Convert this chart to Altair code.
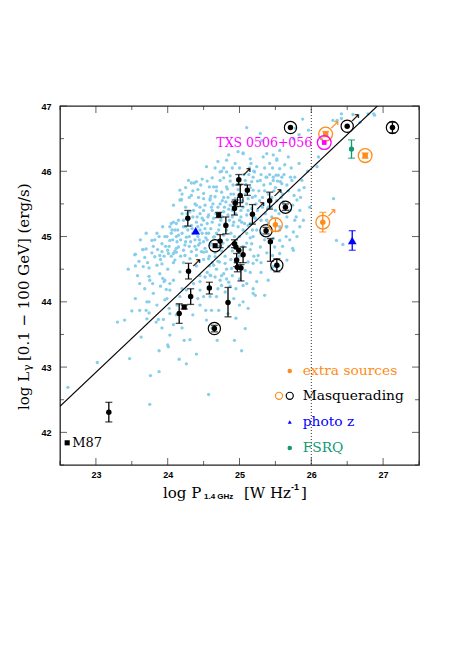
import altair as alt
import pandas as pd

# ---------------- data ----------------
X_DOMAIN = [22.5, 27.5]
Y_DOMAIN = [41.5, 47.0]
x_major = [23, 24, 25, 26, 27]
x_minor = [22.5, 23.5, 24.5, 25.5, 26.5, 27.5]
y_major = [42, 43, 44, 45, 46, 47]
y_minor = [41.5, 42.5, 43.5, 44.5, 45.5, 46.5]

# light-blue background sample (log P, log L)
cloud_points = [
    (22.61, 42.69), (23.02, 43.07), (23.30, 43.69), (23.40, 43.72), (23.47, 43.13), (23.50, 43.86),
    (23.54, 44.72), (23.61, 43.87), (23.63, 43.46), (23.65, 44.80), (23.70, 43.87), (23.71, 44.00),
    (23.75, 42.43), (23.76, 42.87), (23.80, 44.13), (23.82, 44.69), (23.87, 43.73), (23.88, 42.93),
    (23.88, 43.25), (23.90, 44.24), (23.94, 43.73), (23.96, 44.03), (24.00, 43.34), (24.02, 43.90),
    (24.03, 44.18), (24.05, 44.70), (24.08, 44.33), (24.10, 44.64), (24.12, 43.80), (24.16, 43.12),
    (24.17, 44.46), (24.19, 45.56), (24.23, 43.41),
    (23.74, 44.52), (23.92, 44.58), (23.74, 44.39), (23.79, 44.28), (23.93, 44.36), (23.95, 44.31),
    (24.03, 44.28), (23.98, 44.19), (23.99, 44.05), (23.74, 44.00), (23.74, 43.83), (23.71, 43.74),
    (23.84, 43.69), (24.03, 43.82), (24.13, 43.95), (24.17, 44.08), (24.20, 44.20), (24.26, 44.18),
    (24.36, 44.28), (24.45, 44.31), (24.52, 44.38), (24.59, 44.41), (24.66, 44.38), (24.73, 44.33),
    (24.78, 44.43), (24.45, 44.18), (24.50, 44.08), (24.59, 44.08), (24.68, 44.08), (24.45, 43.95),
    (24.53, 43.87), (24.61, 43.87), (24.71, 43.87), (24.54, 43.72), (24.69, 43.41), (24.31, 43.42),
    (24.03, 43.49), (24.01, 43.31), (24.57, 42.58), (25.08, 43.59), (25.03, 43.25), (25.22, 44.10),
    (25.19, 44.20), (25.10, 44.28), (23.89, 44.71), (24.01, 44.74), (24.12, 44.76), (24.24, 44.71),
    (24.31, 44.66), (24.40, 44.71), (24.50, 44.76), (24.57, 44.66), (24.64, 44.56), (24.66, 44.69),
    (24.72, 44.61), (24.80, 44.59), (24.89, 44.51), (24.94, 44.61), (25.08, 44.48), (25.12, 44.61),
    (25.19, 44.59), (25.24, 44.64), (24.84, 43.82), (24.87, 44.24),
    (24.93, 43.41), (25.19, 44.13), (25.24, 44.31), (25.40, 44.33), (25.47, 44.54), (25.66, 44.64),
    (25.75, 44.79), (25.56, 44.74), (25.46, 44.71), (25.26, 44.71), (25.29, 44.84), (25.17, 44.89),
    (25.19, 45.00), (25.24, 45.10), (25.10, 45.05), (25.05, 45.10), (25.47, 44.97), (25.56, 44.94),
    (25.65, 45.00), (25.75, 45.07), (25.84, 45.15), (25.89, 45.25), (25.77, 45.25), (25.66, 45.15),
    (25.56, 45.10), (25.49, 44.84), (25.84, 45.40), (25.80, 45.56), (25.73, 45.86), (25.68, 46.22),
    (25.56, 46.32), (25.52, 46.17), (25.42, 46.12), (25.33, 46.22), (25.24, 46.07), (25.19, 45.91),
    (25.29, 45.86), (25.38, 45.91), (25.47, 45.86), (25.59, 45.81), (25.08, 45.86), (25.29, 46.58),
    (25.05, 46.27), (25.15, 46.19), (24.82, 45.76), (24.73, 45.86), (24.94, 46.12), (24.82, 46.17),
    (24.75, 46.00), (24.54, 46.07), (24.40, 45.84), (24.29, 45.86), (24.17, 45.71), (24.33, 45.63),
    (24.50, 45.66), (24.64, 45.76), (24.59, 45.56), (24.17, 45.56), (24.08, 45.48), (23.93, 45.15),
    (23.85, 45.05), (23.78, 44.94), (23.92, 44.89), (23.96, 45.00), (24.03, 44.94), (24.12, 45.00),
    (24.00, 44.79), (24.08, 44.74), (24.15, 44.84), (24.22, 44.79), (23.85, 44.56), (23.89, 44.43),
    (23.66, 44.54), (23.75, 44.33), (23.61, 44.28), (23.96, 44.33), (24.03, 45.15), (24.12, 45.20),
    (23.99, 45.00), (23.70, 44.81),
    (25.88, 46.80), (26.14, 46.50), (26.30, 46.78), (26.36, 46.78), (26.42, 46.81), (26.58, 46.87),
    (26.68, 46.75), (26.87, 46.88), (25.78, 46.66), (25.83, 46.56), (25.75, 46.50), (25.47, 46.25),
    (25.52, 46.19), (25.56, 46.04), (25.38, 46.27), (25.31, 46.47), (25.37, 45.91), (25.47, 45.91),
    (25.51, 45.94), (25.54, 45.94), (25.59, 45.91), (25.34, 45.79), (25.43, 45.81), (25.57, 45.84),
    (25.66, 45.79), (25.71, 45.91), (25.77, 45.91), (25.83, 46.12), (25.87, 45.86), (25.83, 45.71),
    (25.76, 45.63), (25.74, 45.48), (25.79, 45.30), (25.61, 45.53), (25.66, 45.30), (25.56, 45.15),
    (25.38, 45.25), (25.74, 44.82), (25.65, 45.15), (26.10, 46.22), (26.08, 46.07), (26.35, 44.94),
    (26.44, 44.88), (26.31, 45.58), (25.96, 46.63), (26.42, 46.88), (26.79, 46.88), (26.88, 46.86),
    (25.10, 46.67), (25.05, 46.28), (25.16, 46.12), (25.21, 45.99), (24.33, 45.82), (24.37, 45.82),
    (24.46, 45.79), (24.58, 45.76), (24.19, 45.57), (24.73, 45.99), (24.82, 45.99), (24.87, 45.93),
    (24.78, 45.90), (24.68, 45.76), (24.75, 45.68), (24.83, 45.73), (24.91, 45.79), (25.17, 45.84),
    (25.19, 45.71), (24.50, 45.58), (24.59, 45.58), (24.66, 45.61), (24.40, 45.48), (24.52, 45.48),
    (24.61, 45.45), (24.73, 45.50), (24.81, 45.53), (24.31, 45.38), (24.08, 45.22), (24.06, 45.10),
    (24.45, 45.35), (24.57, 45.33), (24.64, 45.28), (24.50, 45.25), (24.40, 45.22), (24.33, 45.17),
    (24.22, 45.15), (24.15, 45.02), (24.26, 44.99), (24.13, 44.92), (24.24, 44.87), (24.33, 44.77),
    (23.92, 44.77), (23.66, 44.80), (23.55, 44.73), (24.45, 45.10), (24.54, 45.05), (24.64, 44.99),
    (24.73, 44.94), (24.50, 44.92), (24.59, 44.87), (24.43, 44.87), (24.54, 44.77), (24.47, 44.77),
    (24.87, 45.48), (24.94, 45.58), (24.84, 45.33), (24.78, 45.38), (24.91, 45.17), (25.12, 45.58),
    (25.17, 45.43), (25.10, 45.33), (25.03, 45.22), (25.12, 45.17), (25.22, 45.28),
    (24.42, 45.00), (24.48, 45.05), (24.55, 44.95), (24.60, 45.12), (24.68, 45.05), (24.72, 45.18),
    (24.78, 45.02), (24.82, 45.10), (24.88, 45.05), (24.92, 45.22), (24.98, 45.15), (25.02, 45.30),
    (24.55, 45.20), (24.62, 45.40), (24.70, 45.45), (24.76, 45.30), (24.85, 45.42), (24.90, 45.30),
    (24.95, 45.35), (25.05, 45.45), (25.10, 45.50), (24.45, 44.90), (24.52, 44.82), (24.58, 44.70),
    (24.66, 44.75), (24.70, 44.62), (24.75, 44.78), (24.80, 44.70), (24.85, 44.85), (24.90, 44.78),
    (24.38, 44.95), (24.35, 45.05), (24.42, 45.15), (24.48, 45.28), (24.35, 45.30), (24.28, 45.10),
    (24.25, 44.92), (24.30, 44.85), (24.40, 44.80), (24.50, 44.65), (24.58, 44.55), (24.62, 44.60),
    (25.15, 45.20), (25.20, 45.30), (25.25, 45.40), (25.28, 45.55), (25.32, 45.60), (25.35, 45.70),
    (25.22, 45.62), (25.15, 45.75), (25.08, 45.65), (24.98, 45.72), (24.88, 45.65), (24.78, 45.60),
    (24.68, 45.70), (24.60, 45.62), (24.45, 45.45), (24.38, 45.50), (24.30, 45.60), (24.25, 45.45),
    (24.20, 45.35), (24.15, 45.25), (24.10, 45.10), (24.05, 45.20), (24.12, 44.82), (24.18, 44.70),
    (24.22, 44.60), (24.08, 44.60), (24.00, 44.50), (24.30, 44.45), (24.40, 44.55), (24.45, 44.40),
    (24.55, 44.45), (24.68, 44.50), (24.75, 44.40), (24.85, 44.30), (24.95, 44.20), (25.05, 44.00),
    (25.12, 43.90), (24.92, 44.05), (24.80, 44.15), (24.75, 44.25), (25.30, 45.05), (25.35, 44.95),
    (25.40, 45.20), (25.45, 45.30), (25.50, 45.40), (25.55, 45.35), (25.60, 45.65), (25.50, 45.75),
    (25.45, 45.60), (25.40, 45.45), (25.30, 45.25), (25.38, 44.75), (25.30, 44.60), (25.20, 44.70),
    (25.15, 44.80), (25.10, 44.90), (25.00, 45.00), (25.05, 44.85), (24.95, 44.90),
    (23.60, 44.62), (23.68, 44.68), (23.72, 44.60), (23.78, 44.75), (23.80, 44.85), (23.86, 44.80),
    (23.82, 44.95), (23.88, 45.00), (23.90, 44.65), (23.95, 44.70), (23.97, 44.85), (24.02, 44.85),
    (24.05, 45.05), (24.07, 44.95), (24.10, 44.78), (24.14, 45.10), (24.18, 44.95), (24.20, 45.05),
    (24.22, 45.25), (24.25, 45.15), (24.27, 45.35), (24.30, 45.00), (24.32, 44.92), (24.34, 45.12),
    (24.36, 45.40), (24.38, 44.85), (24.40, 45.05), (24.41, 45.30), (24.43, 45.60), (24.44, 44.95),
    (24.47, 45.18), (24.50, 45.40), (24.52, 45.12), (24.53, 44.98), (24.56, 45.30), (24.57, 45.05),
    (24.60, 44.90), (24.62, 45.22), (24.63, 45.50), (24.65, 45.00), (24.67, 45.35), (24.70, 44.85),
    (24.71, 45.10), (24.74, 45.25), (24.76, 45.55), (24.77, 44.90), (24.79, 45.45), (24.80, 45.20),
    (24.83, 44.95), (24.84, 45.60), (24.86, 45.25), (24.87, 45.85), (24.90, 45.40), (24.92, 45.65),
    (24.93, 45.00), (24.96, 45.50), (24.97, 45.80), (25.00, 45.25), (25.02, 45.40), (25.04, 45.55),
    (25.06, 45.95), (25.07, 45.20), (25.09, 45.80), (25.12, 45.40), (25.13, 45.95), (25.14, 46.05),
    (25.18, 45.60), (25.20, 46.00), (25.23, 45.50), (25.25, 45.85), (25.27, 45.70), (25.30, 45.95),
    (25.32, 45.45), (25.35, 46.05), (25.36, 45.35), (25.40, 45.65), (25.42, 45.95), (25.44, 45.45),
    (25.46, 46.05), (25.48, 45.70), (25.52, 45.55), (25.53, 45.85), (25.58, 45.60), (25.62, 45.95),
    (25.63, 46.10), (25.68, 45.70), (25.70, 45.40), (25.72, 46.05), (24.20, 45.65), (24.25, 45.75),
    (24.35, 45.70), (24.42, 45.72), (24.48, 45.88), (24.55, 45.85), (24.62, 45.90), (24.66, 46.05),
    (24.70, 46.15), (24.78, 46.05), (24.85, 46.25), (24.90, 46.05), (24.98, 46.30), (25.00, 46.05),
    (24.60, 44.40), (24.70, 44.20), (24.82, 44.50), (24.90, 44.40), (25.00, 44.35), (25.05, 44.25),
    (25.15, 44.45), (25.30, 44.45), (25.35, 44.10), (25.45, 44.50), (25.55, 44.55), (25.60, 44.85),
    (25.70, 44.95), (25.80, 45.00), (25.85, 45.60), (25.90, 45.75), (25.95, 46.00), (25.98, 45.45),
    (23.62, 44.95), (23.70, 45.05), (23.55, 44.55), (23.45, 44.50), (23.58, 44.40), (23.68, 44.20),
    (23.55, 44.05), (23.85, 43.95), (23.92, 43.60), (24.08, 43.65), (24.20, 43.60), (24.35, 43.80),
    (24.42, 44.05), (24.62, 43.60), (24.40, 43.20), (24.26, 43.05), (24.95, 43.75), (25.00, 43.95),
    (24.82, 44.35), (24.88, 44.65), (25.00, 44.70), (25.15, 44.98), (25.18, 45.10),
]

# black sources: x, y, lower error, upper error, flags
src_x = [23.18, 24.16, 24.23, 24.32, 24.58, 24.84, 24.65, 24.28, 24.29, 24.66, 24.71, 24.73,
         24.81, 24.93, 24.94, 24.99, 25.01, 25.11, 25.18, 24.93, 24.95, 24.96, 24.99, 24.97,
         25.02, 25.05, 25.37, 25.42, 25.43, 25.52, 25.64, 25.71, 26.50, 27.13]
src_y = [42.31, 43.82, 43.92, 44.08, 44.21, 43.99, 43.59, 45.28, 44.47, 44.86, 45.33, 44.93,
         45.17, 45.43, 45.51, 45.87, 45.63, 45.71, 45.34, 44.89, 44.84, 44.64, 44.79, 44.53,
         44.52, 44.72, 45.09, 45.55, 44.92, 44.56, 45.45, 46.67, 46.69, 46.67]
src_elo = [0.15, 0.15, 0.03, 0.12, 0.09, 0.22, 0.05, 0.12, 0.12, 0.0, 0.04, 0.10,
           0.13, 0.10, 0.05, 0.08, 0.17, 0.08, 0.15, 0.06, 0.0, 0.10, 0.0, 0.07,
           0.20, 0.12, 0.05, 0.13, 0.30, 0.10, 0.05, 0.0, 0.0, 0.08]
src_ehi = [0.15, 0.15, 0.03, 0.12, 0.09, 0.23, 0.05, 0.12, 0.12, 0.0, 0.04, 0.10,
           0.13, 0.10, 0.05, 0.08, 0.17, 0.08, 0.15, 0.06, 0.0, 0.10, 0.0, 0.07,
           0.05, 0.12, 0.05, 0.13, 0.05, 0.10, 0.05, 0.0, 0.0, 0.08]
src_ring = [0, 0, 0, 0, 0, 0, 1, 0, 0, 1, 0, 0, 0, 0, 0, 0, 0, 0, 0, 0, 0, 0, 0, 0,
            0, 0, 1, 0, 0, 1, 1, 1, 1, 1]
src_arrow = [0, 0, 0, 0, 0, 0, 0, 0, 1, 0, 0, 0, 0, 0, 0, 1, 0, 0, 1, 0, 0, 0, 0, 0,
             0, 0, 0, 1, 0, 0, 0, 0, 1, 0]
src_square = [0, 0, 1, 0, 0, 0, 0, 0, 0, 1, 1, 0, 0, 0, 0, 0, 0, 0, 0, 0, 0, 0, 0, 0,
              0, 0, 0, 0, 0, 0, 0, 0, 0, 0]

open_sq_x = [25.01]
open_sq_y = [45.56]

# extra sources (orange)
extra_x = [25.50, 26.16, 26.20, 26.75]
extra_y = [45.18, 45.22, 46.57, 46.24]
extra_err = [0.10, 0.15, 0.04, 0.04]
extra_arrow = [0, 1, 1, 0]
extra_square = [0, 0, 1, 1]

# TXS 0506+056
txs_x = [26.18]
txs_y = [46.44]

# FSRQ (green) and photo-z (blue)
fsrq_x = [26.56]
fsrq_y = [46.34]
fsrq_err = [0.14]
photoz_x = [24.39, 26.57]
photoz_y = [45.09, 44.94]
photoz_err = [0.0, 0.15]

# M87
m87_x = [22.60]
m87_y = [41.84]

# correlation line and threshold
line_x = [22.5, 26.92]
line_y = [42.40, 47.0]
threshold_x = 26.0

# ---------------- styling ----------------
W = H = 359
BLUE_CLOUD = "#87ceeb"
ORANGE = "#ff8c1a"
GREEN = "#109a72"
BLUE = "#0000ff"
MAGENTA = "#ff00ff"
SERIF = "DejaVu Serif"

xs = alt.Scale(domain=X_DOMAIN, nice=False, zero=False)
ys = alt.Scale(domain=Y_DOMAIN, nice=False, zero=False)
x_axis = alt.Axis(values=x_major, format="d", ticks=False, domain=False, grid=False, title=None,
                  labelFont="Liberation Sans", labelFontWeight="bold", labelFontSize=9,
                  labelPadding=5, labelColor="black")
y_axis = alt.Axis(values=y_major, format="d", ticks=False, domain=False, grid=False, title=None,
                  labelFont="Liberation Sans", labelFontWeight="bold", labelFontSize=9,
                  labelPadding=9, labelColor="black")


def X(f="x"):
    return alt.X(f, type="quantitative", scale=xs, axis=x_axis)


def Y(f="y"):
    return alt.Y(f, type="quantitative", scale=ys, axis=y_axis)


cloud_df = pd.DataFrame(cloud_points, columns=["x", "y"])
src = pd.DataFrame({"x": src_x, "y": src_y, "lo": [a - b for a, b in zip(src_y, src_elo)],
                    "hi": [a + b for a, b in zip(src_y, src_ehi)], "err": [a + b for a, b in zip(src_elo, src_ehi)],
                    "ring": src_ring, "arrow": src_arrow, "square": src_square})
src_err = src[src["err"] > 0]
extra = pd.DataFrame({"x": extra_x, "y": extra_y, "lo": [a - e for a, e in zip(extra_y, extra_err)],
                      "hi": [a + e for a, e in zip(extra_y, extra_err)], "arrow": extra_arrow,
                      "square": extra_square})
fsrq = pd.DataFrame({"x": fsrq_x, "y": fsrq_y, "lo": [a - e for a, e in zip(fsrq_y, fsrq_err)],
                     "hi": [a + e for a, e in zip(fsrq_y, fsrq_err)]})
photoz = pd.DataFrame({"x": photoz_x, "y": photoz_y, "lo": [a - e for a, e in zip(photoz_y, photoz_err)],
                       "hi": [a + e for a, e in zip(photoz_y, photoz_err)], "err": photoz_err})
photoz_e = photoz[photoz["err"] > 0]
line_df = pd.DataFrame({"x": line_x, "y": line_y})

layers = []
layers.append(alt.Chart(cloud_df).mark_circle(size=11, color=BLUE_CLOUD, opacity=1).encode(x=X(), y=Y()))
layers.append(alt.Chart(line_df).mark_line(color="black", strokeWidth=1.1, clip=True).encode(x=X(), y=Y()))
layers.append(alt.Chart(pd.DataFrame({"x": [threshold_x]})).mark_rule(
    color="#333", strokeDash=[1, 2], strokeWidth=1).encode(x=X()))


def errbars(df, color):
    out = [alt.Chart(df).mark_rule(color=color, strokeWidth=1.3).encode(x=X(), y=Y("lo"), y2="hi")]
    for f in ["lo", "hi"]:
        out.append(alt.Chart(df).mark_tick(orient="horizontal", size=7, thickness=1.3, color=color)
                   .encode(x=X(), y=Y(f)))
    return out


layers += errbars(src_err, "black")
layers += errbars(extra, ORANGE)
layers += errbars(fsrq, GREEN)
layers += errbars(photoz_e, BLUE)

layers.append(alt.Chart(src[src["square"] == 0]).mark_point(filled=True, shape="circle", size=30, color="black", opacity=1)
              .encode(x=X(), y=Y()))
layers.append(alt.Chart(src[src["square"] == 1]).mark_point(filled=True, shape="square", size=26, color="black", opacity=1)
              .encode(x=X(), y=Y()))
layers.append(alt.Chart(src[src["ring"] == 1]).mark_point(filled=False, shape="circle", size=150, color="black",
                                                           strokeWidth=1.2, opacity=1).encode(x=X(), y=Y()))
layers.append(alt.Chart(pd.DataFrame({"x": open_sq_x, "y": open_sq_y})).mark_point(
    filled=False, shape="square", size=30, color="black", strokeWidth=1, opacity=1).encode(x=X(), y=Y()))

layers.append(alt.Chart(extra[extra["square"] == 0]).mark_point(filled=True, shape="circle", size=30, color=ORANGE, opacity=1)
              .encode(x=X(), y=Y()))
layers.append(alt.Chart(extra[extra["square"] == 1]).mark_point(filled=True, shape="square", size=30, color=ORANGE, opacity=1)
              .encode(x=X(), y=Y()))
layers.append(alt.Chart(extra).mark_point(filled=False, shape="circle", size=190, color=ORANGE,
                                          strokeWidth=1.3, opacity=1).encode(x=X(), y=Y()))

txs_df = pd.DataFrame({"x": txs_x, "y": txs_y, "t": ["TXS 0506+056"]})
layers.append(alt.Chart(txs_df).mark_point(filled=True, shape="square", size=22, color=MAGENTA, opacity=1)
              .encode(x=X(), y=Y()))
layers.append(alt.Chart(txs_df).mark_point(filled=False, shape="circle", size=190, color=MAGENTA,
                                           strokeWidth=1.3, opacity=1).encode(x=X(), y=Y()))
layers.append(alt.Chart(txs_df).mark_text(font=SERIF, fontSize=12.5, color=MAGENTA, align="right",
                                          baseline="middle", dx=-12).encode(x=X(), y=Y(), text="t"))

layers.append(alt.Chart(fsrq).mark_point(filled=True, shape="circle", size=28, color=GREEN, opacity=1)
              .encode(x=X(), y=Y()))
layers.append(alt.Chart(photoz).mark_point(filled=True, shape="triangle-up", size=75, color=BLUE, opacity=1)
              .encode(x=X(), y=Y()))

layers.append(alt.Chart(src[src["arrow"] == 1]).mark_text(text="\u2197", font="DejaVu Sans", fontSize=13,
                                                           color="black", dx=8, dy=-8).encode(x=X(), y=Y()))
layers.append(alt.Chart(extra[extra["arrow"] == 1]).mark_text(text="\u2197", font="DejaVu Sans", fontSize=13,
                                                               color=ORANGE, dx=9, dy=-9).encode(x=X(), y=Y()))

m87_df = pd.DataFrame({"x": m87_x, "y": m87_y, "t": ["M87"]})
layers.append(alt.Chart(m87_df).mark_point(filled=True, shape="square", size=26, color="black", opacity=1)
              .encode(x=X(), y=Y()))
layers.append(alt.Chart(m87_df).mark_text(font=SERIF, fontSize=13, color="black", align="left", baseline="middle",
                                          dx=5).encode(x=X(), y=Y(), text="t"))

# in-plot legend
leg_x = 25.70
leg_text_x = 25.88
leg_df = pd.DataFrame({"x": [leg_text_x] * 4, "y": [42.94, 42.56, 42.16, 41.76],
                       "t": ["extra sources", "Masquerading", "photo z", "FSRQ"],
                       "c": [ORANGE, "black", BLUE, GREEN]})
layers.append(alt.Chart(leg_df).mark_text(font=SERIF, fontSize=13.8, align="left", baseline="middle")
              .encode(x=X(), y=Y(), text="t", color=alt.Color("c:N", scale=None)))
layers.append(alt.Chart(pd.DataFrame({"x": [leg_x], "y": [42.94]})).mark_point(
    filled=True, shape="circle", size=20, color=ORANGE, opacity=1).encode(x=X(), y=Y()))
layers.append(alt.Chart(pd.DataFrame({"x": [leg_x - 0.15], "y": [42.56]})).mark_point(
    filled=False, shape="circle", size=50, color=ORANGE, strokeWidth=1.2, opacity=1).encode(x=X(), y=Y()))
layers.append(alt.Chart(pd.DataFrame({"x": [leg_x], "y": [42.56]})).mark_point(
    filled=False, shape="circle", size=50, color="black", strokeWidth=1.2, opacity=1).encode(x=X(), y=Y()))
layers.append(alt.Chart(pd.DataFrame({"x": [leg_x], "y": [42.16]})).mark_point(
    filled=True, shape="triangle-up", size=16, color=BLUE, opacity=1).encode(x=X(), y=Y()))
layers.append(alt.Chart(pd.DataFrame({"x": [leg_x], "y": [41.76]})).mark_point(
    filled=True, shape="circle", size=20, color=GREEN, opacity=1).encode(x=X(), y=Y()))


def tick_layers(vals, length):
    tdf = pd.DataFrame({"v": vals})
    return [
        alt.Chart(tdf).mark_tick(orient="vertical", size=length, thickness=1, color="#222", yOffset=length / 2)
        .encode(x=X("v"), y=alt.value(0)),
        alt.Chart(tdf).mark_tick(orient="vertical", size=length, thickness=1, color="#222", yOffset=-length / 2)
        .encode(x=X("v"), y=alt.value(H)),
    ]


def ytick_layers(vals, length):
    tdf = pd.DataFrame({"v": vals})
    return [
        alt.Chart(tdf).mark_tick(orient="horizontal", size=length, thickness=1, color="#222", xOffset=length / 2)
        .encode(y=Y("v"), x=alt.value(0)),
        alt.Chart(tdf).mark_tick(orient="horizontal", size=length, thickness=1, color="#222", xOffset=-length / 2)
        .encode(y=Y("v"), x=alt.value(W)),
    ]


layers += tick_layers(x_major, 7) + tick_layers(x_minor, 4)
layers += ytick_layers(y_major, 7) + ytick_layers(y_minor, 4)

one = pd.DataFrame({"k": [0]})


def txt(s, x, y, size, font=SERIF, weight="normal", angle=0, align="left"):
    return alt.Chart(one).mark_text(text=s, font=font, fontSize=size, fontWeight=weight, angle=angle,
                                    align=align, baseline="middle", color="black").encode(
        x=alt.value(x), y=alt.value(y))


layers += [
    txt("log P", 103, 387, 15),
    txt("1.4 GHz", 144, 391, 8, font="Liberation Sans", weight="bold"),
    txt("[W Hz", 184, 387, 15),
    txt("-1", 231, 381, 9, font="Liberation Sans", weight="bold"),
    txt("]", 241, 387, 15),
    txt("log L", -36, 304, 15, angle=270),
    txt("\u03b3", -32, 265, 11, angle=270),
    txt("[0.1 \u2212 100 GeV] (erg/s)", -36, 255, 15, angle=270),
]

chart = alt.layer(*layers).properties(
    width=W, height=H,
    autosize=alt.AutoSizeParams(type="none"),
    padding={"left": 52, "top": 98, "right": 30, "bottom": 160},
    background="white",
).configure_view(stroke="#222", strokeWidth=1.3)

chart.save("out.html", embed_options={"renderer": "svg", "actions": False})
